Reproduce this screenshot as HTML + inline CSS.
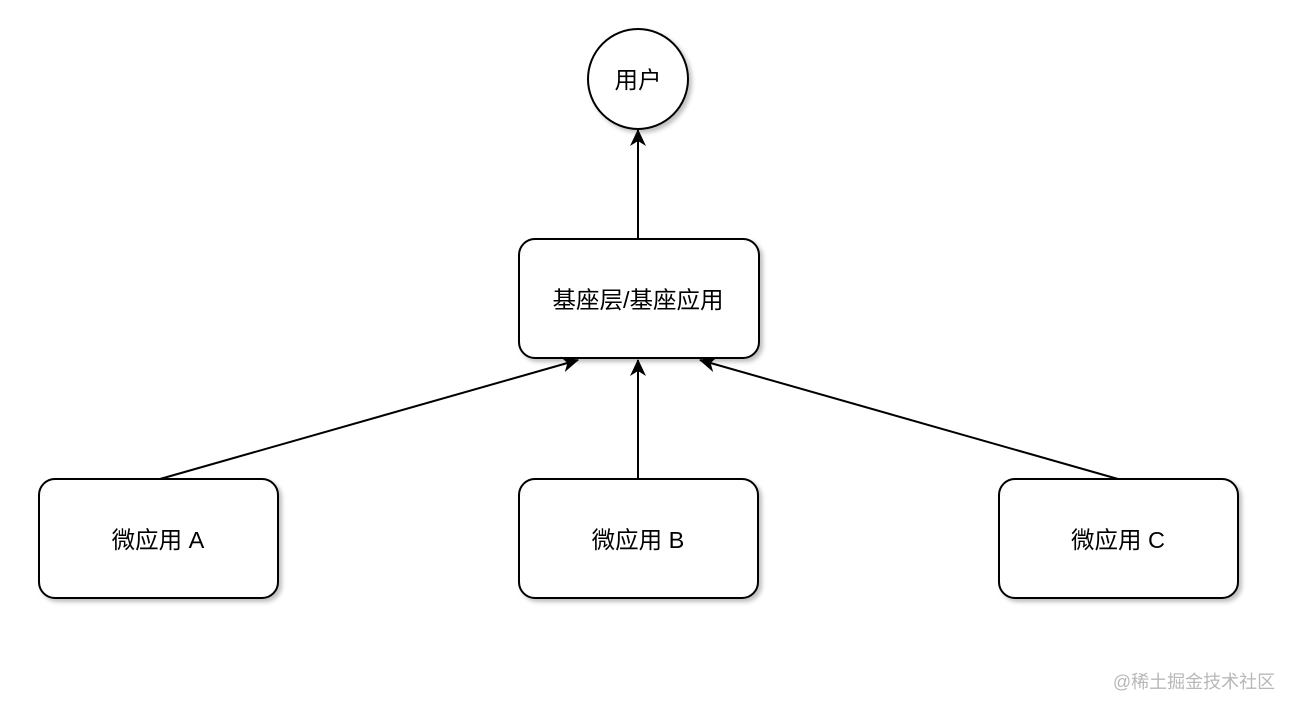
<!DOCTYPE html>
<html><head><meta charset="utf-8"><style>
html,body{margin:0;padding:0;background:#fff;}
body{width:1294px;height:712px;overflow:hidden;position:relative;}
svg text{font-family:"Liberation Sans","Noto Sans CJK SC",sans-serif;}
</style></head><body>
<svg width="1294" height="712" viewBox="0 0 1294 712" xmlns="http://www.w3.org/2000/svg">
<defs>
<filter id="sh" x="-10%" y="-10%" width="130%" height="130%">
<feDropShadow dx="3" dy="3" stdDeviation="2" flood-color="#000" flood-opacity="0.25"/>
</filter>
<marker id="ah" markerWidth="18" markerHeight="16" refX="16" refY="8" orient="auto" markerUnits="userSpaceOnUse">
<path d="M0,0 L17,8 L0,16 L5,8 Z" fill="#000"/>
</marker>
</defs>
<g fill="#fff" stroke="#000" stroke-width="2" filter="url(#sh)">
<circle cx="638" cy="79" r="50"/>
<rect x="519" y="239" width="240" height="119" rx="16"/>
<rect x="39" y="479" width="239" height="119" rx="16"/>
<rect x="519" y="479" width="239" height="119" rx="16"/>
<rect x="999" y="479" width="239" height="119" rx="16"/>
</g>
<g stroke="#000" stroke-width="2" fill="none">
<line x1="638" y1="239" x2="638" y2="130" marker-end="url(#ah)"/>
<line x1="160" y1="479" x2="578" y2="360" marker-end="url(#ah)"/>
<line x1="638" y1="479" x2="638" y2="360" marker-end="url(#ah)"/>
<line x1="1118" y1="479" x2="700" y2="360" marker-end="url(#ah)"/>
</g>
<g font-size="23.5" fill="#000" text-anchor="middle">
<text x="638" y="88">用户</text>
<text x="638" y="308">基座层/基座应用</text>
<text x="158" y="548">微应用 A</text>
<text x="638" y="548">微应用 B</text>
<text x="1118" y="548">微应用 C</text>
</g>
<text x="1194" y="688" font-size="18" fill="#b8b8b8" text-anchor="middle">@稀土掘金技术社区</text>
</svg>
</body></html>
